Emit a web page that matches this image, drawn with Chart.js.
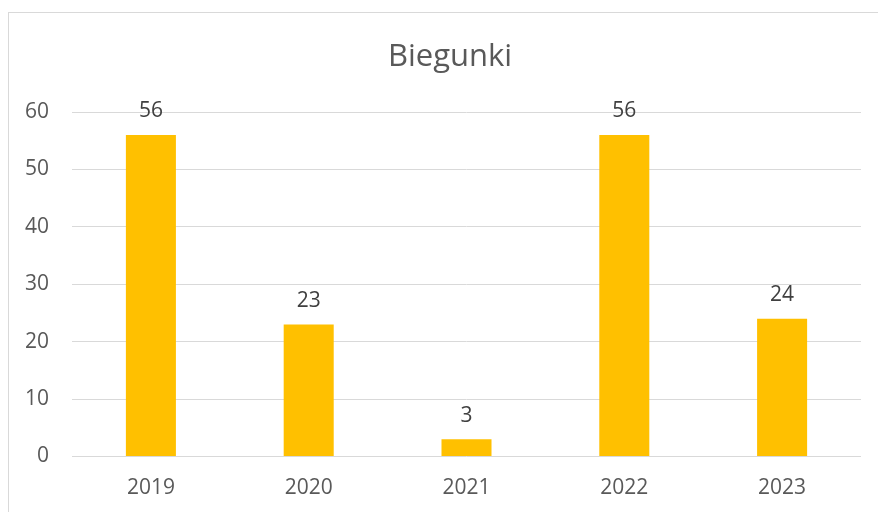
<!DOCTYPE html>
<html>
<head>
<meta charset="utf-8">
<script src="https://cdn.jsdelivr.net/npm/chart.js@4.4.0/dist/chart.umd.min.js"></script>
<style>
  html, body { margin: 0; padding: 0; background: #fff; }
  #wrap { position: relative; width: 878px; height: 512px; overflow: hidden; }
  #frame {
    position: absolute; left: 8px; top: 12px; width: 900px; height: 540px;
    border: 1px solid #d9d9d9; box-sizing: border-box;
  }
  #chart { position: absolute; left: 0; top: 0; }
</style>
</head>
<body>
<div id="wrap">
  <div id="frame"></div>
  <canvas id="chart" width="878" height="512"></canvas>
</div>
<script>
  const chartTitle = 'Biegunki';
  const years = ['2019', '2020', '2021', '2022', '2023'];
  const cases = [56, 23, 3, 56, 24];
  const yTicks = [0, 10, 20, 30, 40, 50, 60];

  // title sits over the full Excel chart box, not the canvas centre
  const titleText = {
    id: 'titleText',
    afterDraw(chart) {
      const ctx = chart.ctx;
      ctx.save();
      ctx.font = '31px "Open Sans"';
      ctx.fillStyle = '#595959';
      ctx.textAlign = 'center';
      ctx.textBaseline = 'middle';
      ctx.fillText(chartTitle, 450, 57);
      ctx.restore();
    }
  };

  // numbers above the bars
  const barLabels = {
    id: 'barLabels',
    afterDatasetsDraw(chart) {
      const ctx = chart.ctx;
      const meta = chart.getDatasetMeta(0);
      ctx.save();
      ctx.font = '21px "Open Sans"';
      ctx.fillStyle = '#404040';
      ctx.textAlign = 'center';
      ctx.textBaseline = 'alphabetic';
      meta.data.forEach((bar, i) => {
        ctx.fillText(String(cases[i]), bar.x, bar.y - 17.5);
      });
      ctx.restore();
    }
  };

  new Chart(document.getElementById('chart').getContext('2d'), {
    type: 'bar',
    data: {
      labels: years,
      datasets: [{
        data: cases,
        backgroundColor: '#FFC000',
        categoryPercentage: 1,
        barPercentage: 0.317
      }]
    },
    options: {
      responsive: false,
      animation: false,
      devicePixelRatio: 1,
      layout: { padding: { left: 0, right: 17, top: 112, bottom: 13 } },
      plugins: {
        legend: { display: false },
        tooltip: { enabled: false },
        title: { display: false }
      },
      scales: {
        x: {
          afterFit(scale) { scale.height = 42.5; },
          grid: { display: false, drawTicks: false },
          border: { display: false },
          ticks: {
            color: '#595959',
            padding: 18.5,
            maxRotation: 0,
            font: { family: '"Open Sans"', size: 21, lineHeight: 1.2 }
          }
        },
        y: {
          min: 0,
          max: 60,
          afterBuildTicks(scale) { scale.ticks = yTicks.map(v => ({ value: v })); },
          afterFit(scale) { scale.width = 72; },
          grid: { color: '#d9d9d9', lineWidth: 1, drawTicks: false },
          border: { display: false },
          ticks: {
            color: '#595959',
            padding: 23,
            font: { family: '"Open Sans"', size: 21, lineHeight: 1.2 }
          }
        }
      }
    },
    plugins: [barLabels, titleText]
  });
</script>
</body>
</html>
